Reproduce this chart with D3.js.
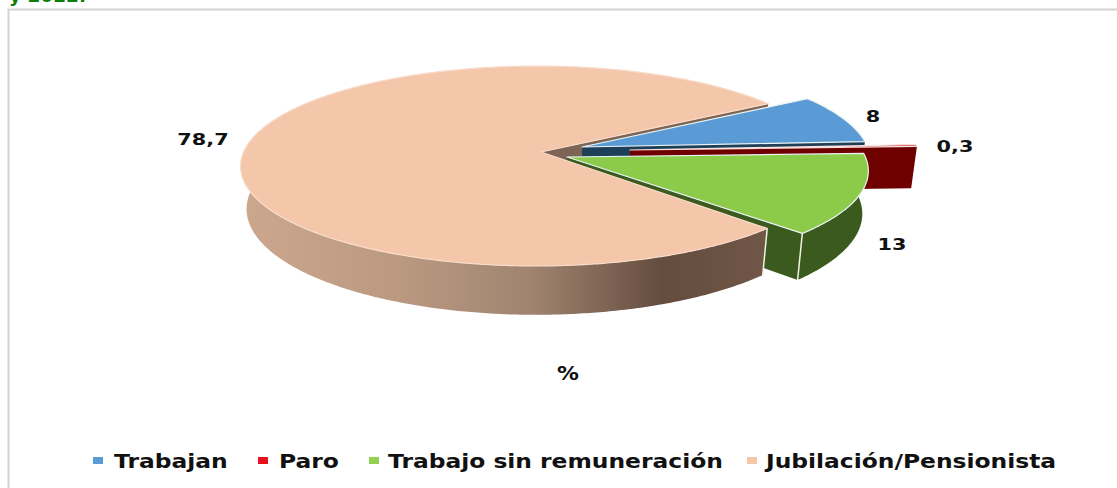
<!DOCTYPE html>
<html>
<head>
<meta charset="utf-8">
<script src="https://cdn.jsdelivr.net/npm/d3@7"></script>
<style>
  html, body { margin: 0; padding: 0; background: #fff; overflow: hidden; }
  text { font-family: "DejaVu Sans", sans-serif; font-weight: bold; fill: #111; }
</style>
</head>
<body>
<div id="chart"></div>
<script>
const categories = ['Trabajan', 'Paro', 'Trabajo sin remuneración', 'Jubilación/Pensionista'];
const values = [8, 0.3, 13, 78.7];
const valueLabels = ['8', '0,3', '13', '78,7'];
const chartTitle = '%';
const clippedHeading = 'y 2022.';

const width = 1117;
const height = 488;

// colours per slice
const topColors = ['#5b9bd5', '#b00d0d', '#8ccb4a', '#f4c7aa'];
const legendColors = ['#5b9bd5', '#e8101c', '#92d050', '#f4c7aa'];
const faceColors = ['#1d3f58', '#6e0000', '#3a5a1e', '#7c6555'];

// the picture is a perspective pie, each slice pulled out from its own apex
const apexX = [582, 630, 567, 541];
const apexY = [147, 150, 157, 152];
const radiusFactor = [0.965, 0.975, 1.008, 0.99];
const arcShift = [0, 0, 0, 0.015];
const labelX = [873, 955, 892, 203];
const labelY = [122, 152, 250, 145];
const legendSwatchX = [93, 258, 369, 747];
const legendTextX = [114, 279, 388, 766];

const rx = 296;
const ry = 98;
const tilt = 0.14;
const depth = 42;
const bottomShrink = 0.98;
const labelStretch = 1.3;
const legendStretch = 1.2;

const pie = d3.pie().sort(null).value((d) => d)
  .startAngle((58 * Math.PI) / 180)
  .endAngle((418 * Math.PI) / 180);
const arcs = pie(values);

function project(i, angle, r, z) {
  const u = Math.sin(angle) * r - arcShift[i] * r;
  const v = -Math.cos(angle) * r;
  const s = 1 / (1 - tilt * v);
  const shrink = z ? bottomShrink : 1;
  return [
    apexX[i] + s * u * rx * radiusFactor[i] * shrink,
    apexY[i] + s * v * ry + z * depth * s,
  ];
}

function arcPoints(i, a0, a1, z) {
  const n = Math.max(2, Math.ceil((a1 - a0) / 0.01));
  return d3.range(n + 1).map((k) => project(i, a0 + ((a1 - a0) * k) / n, 1, z));
}

const line = d3.line();
const closed = (pts) => line(pts) + 'Z';

const svg = d3.select('#chart').append('svg')
  .attr('width', width)
  .attr('height', height)
  .style('display', 'block');

// heading cut off by the top of the image
svg.append('text')
  .attr('x', 9)
  .attr('y', 2)
  .attr('font-size', 18.5)
  .style('fill', '#0a7d0a')
  .text(clippedHeading);

// chart frame
svg.append('path')
  .attr('d', `M8.5,${height}V9.5H${width}`)
  .attr('fill', 'none')
  .attr('stroke', '#d4d4d4')
  .attr('stroke-width', 2);

const grad = svg.append('defs').append('linearGradient')
  .attr('id', 'wallGrad')
  .attr('gradientUnits', 'userSpaceOnUse')
  .attr('x1', 241).attr('x2', 768)
  .attr('y1', 0).attr('y2', 0);
[[0, '#cba78e'], [0.3, '#bb9981'], [0.55, '#a08470'], [0.8, '#644c3e'], [1, '#705747']].forEach(([o, c]) => {
  grad.append('stop').attr('offset', o).attr('stop-color', c);
});

const pieG = svg.append('g').style('filter', 'blur(0.5px)');

function cutFace(i, angle) {
  return closed([
    project(i, 0, 0, 0),
    project(i, angle, 1, 0),
    project(i, angle, 1, 1),
    project(i, 0, 0, 1),
  ]);
}

function wall(i, a0, a1) {
  return closed(arcPoints(i, a0, a1, 0).concat(arcPoints(i, a0, a1, 1).reverse()));
}

// painter's order, back to front
const JUB = 3;
const GREEN = 2;
const RED = 1;
const BLUE = 0;

pieG.append('path').attr('d', cutFace(JUB, arcs[JUB].endAngle)).attr('fill', faceColors[JUB]);
pieG.append('path').attr('d', cutFace(BLUE, arcs[BLUE].endAngle)).attr('fill', faceColors[BLUE]);
pieG.append('path').attr('d', cutFace(RED, arcs[RED].endAngle))
  .attr('fill', faceColors[RED]);
pieG.append('path').attr('d', wall(GREEN, arcs[GREEN].startAngle, arcs[GREEN].endAngle)).attr('fill', faceColors[GREEN]);
pieG.append('path').attr('d', cutFace(GREEN, arcs[GREEN].endAngle)).attr('fill', faceColors[GREEN]);

const jubWallEnd = Math.min(arcs[JUB].endAngle, (285 * Math.PI) / 180);
pieG.append('path').attr('d', wall(JUB, arcs[JUB].startAngle, jubWallEnd)).attr('fill', 'url(#wallGrad)');

// pale seams on the wall corners
[GREEN, JUB].forEach((i) => {
  const a = i === GREEN ? arcs[i].endAngle : arcs[i].startAngle;
  pieG.append('path')
    .attr('d', line([project(i, a, 1, 0), project(i, a, 1, 1)]))
    .attr('stroke', '#eef3e6')
    .attr('stroke-width', 1.5);
});

pieG.selectAll('path.top')
  .data(arcs)
  .join('path')
  .attr('class', 'top')
  .attr('d', (d, i) => closed([project(i, 0, 0, 0)].concat(arcPoints(i, d.startAngle, d.endAngle, 0))))
  .attr('fill', (d, i) => topColors[i])
  .attr('stroke', (d, i) => (i === JUB ? '#f9dccb' : i === RED ? '#fbe3e0' : '#eaf3f5'))
  .attr('stroke-width', 1.2)
  .attr('stroke-linejoin', 'round');

// value labels
svg.selectAll('text.value')
  .data(valueLabels)
  .join('text')
  .attr('class', 'value')
  .attr('transform', (d, i) => `translate(${labelX[i]},${labelY[i]}) scale(${labelStretch},1)`)
  .attr('text-anchor', 'middle')
  .attr('font-size', 16)
  .text((d) => d);

svg.append('text')
  .attr('transform', `translate(568,380) scale(1.15,1)`)
  .attr('text-anchor', 'middle')
  .attr('font-size', 19)
  .text(chartTitle);

// legend
const legend = svg.append('g');
legend.selectAll('rect')
  .data(categories)
  .join('rect')
  .attr('x', (d, i) => legendSwatchX[i])
  .attr('y', 457)
  .attr('width', 10)
  .attr('height', 7)
  .attr('fill', (d, i) => legendColors[i]);

legend.selectAll('text')
  .data(categories)
  .join('text')
  .attr('transform', (d, i) => `translate(${legendTextX[i]},468) scale(${legendStretch},1)`)
  .attr('font-size', 19.5)
  .text((d) => d);
</script>
</body>
</html>
